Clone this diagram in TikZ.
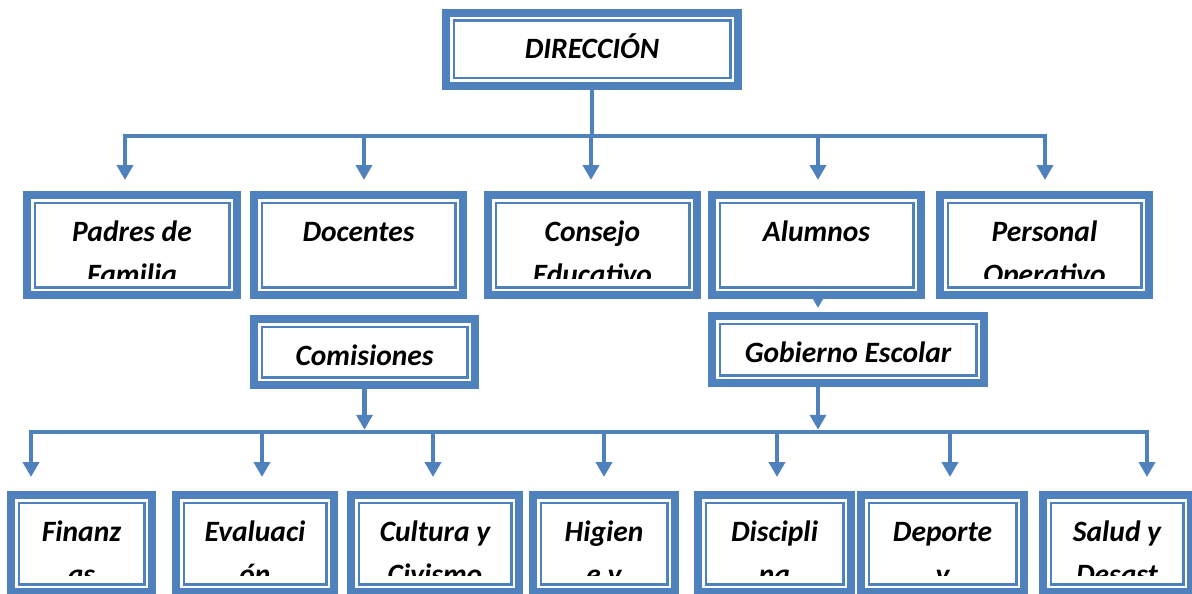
\documentclass[tikz,border=0pt]{standalone}
\usepackage{fontspec}
\setmainfont{Carlito}
\usetikzlibrary{arrows.meta}

\definecolor{orgblue}{HTML}{4F81BD}
\newcommand{\boxfont}{\fontsize{29.5}{43}\selectfont\bfseries\itshape}

\tikzset{
    orgbox/.style={draw=orgblue, line width=8pt, fill=white, inner sep=0pt,
        path picture={
            \draw[orgblue, line width=2.5pt] ([shift={(7.75pt,7.75pt)}]path picture bounding box.south west) rectangle ([shift={(-7.75pt,-7.75pt)}]path picture bounding box.north east);
            \clip ([shift={(9pt,17pt)}]path picture bounding box.south west) rectangle ([shift={(-9pt,-9pt)}]path picture bounding box.north east);
            \pgftext[base,at={\pgfpointadd{\pgfpointanchor{path picture bounding box}{north}}{\pgfpoint{0pt}{-46pt}}}]{\boxfont\parbox[t]{300pt}{\centering\boxfont #1}};
        }},
    flecha/.style={draw=orgblue, line width=4.5pt, -{Triangle[width=16pt,length=15pt]}},
    linea/.style={draw=orgblue, line width=4.5pt},
}

\begin{document}
\begin{tikzpicture}[x=1pt,y=-1pt]
    \useasboundingbox (0,0) rectangle (1192,594);

    \node[orgbox={DIRECCIÓN}, minimum width=292pt, minimum height=73pt] (direccion) at (592,49.5) {};

    % segundo nivel
    \node[orgbox={Padres de\\Familia}, minimum width=210pt, minimum height=100pt] (padres) at (132,245) {};
    \node[orgbox={Docentes}, minimum width=209pt, minimum height=100pt] (docentes) at (358.5,245) {};
    \node[orgbox={Consejo\\Educativo}, minimum width=209pt, minimum height=100pt] (consejo) at (592.5,245) {};
    \node[orgbox={Alumnos}, minimum width=209pt, minimum height=100pt] (alumnos) at (816.5,245) {};
    \node[orgbox={Personal\\Operativo}, minimum width=209pt, minimum height=100pt] (personal) at (1044.5,245) {};

    \node[orgbox={Comisiones}, minimum width=221pt, minimum height=66pt] (comisiones) at (364.5,352) {};
    \node[orgbox={Gobierno Escolar}, minimum width=272pt, minimum height=67pt] (gobierno) at (848,349.5) {};

    % comisiones
    \node[orgbox={Finanz\\as}, minimum width=141pt, minimum height=97pt] (finanzas) at (81.5,543.5) {};
    \node[orgbox={Evaluaci\\ón}, minimum width=158pt, minimum height=97pt] (evaluacion) at (255,543.5) {};
    \node[orgbox={Cultura y\\Civismo}, minimum width=168pt, minimum height=97pt] (cultura) at (435,543.5) {};
    \node[orgbox={Higien\\e y}, minimum width=142pt, minimum height=97pt] (higiene) at (604,543.5) {};
    \node[orgbox={Discipli\\na}, minimum width=153pt, minimum height=97pt] (disciplina) at (774.5,543.5) {};
    \node[orgbox={Deporte\\y}, minimum width=163pt, minimum height=97pt] (deporte) at (942.5,543.5) {};
    \node[orgbox={Salud y\\Desast}, minimum width=148pt, minimum height=97pt] (salud) at (1117,543.5) {};

    \coordinate (b1) at (592,136);
    \coordinate (t1) at (125,180);
    \coordinate (t2) at (364,180);
    \coordinate (t3) at (591,180);
    \coordinate (t4) at (818,180);
    \coordinate (t5) at (1045,180);

    \draw[linea] (direccion.south) -- (b1);
    \draw[flecha] (b1) -| (t1);
    \draw[flecha] (b1) -| (t5);
    \foreach \t in {t2,t3,t4}
        \draw[flecha] (\t |- b1) -- (\t);

    \draw[flecha, shorten >=4pt] (alumnos.south -| t4) -- (gobierno.north -| t4);

    \coordinate (b2) at (604,432);
    \coordinate (u1) at (31,477);
    \coordinate (u2) at (262,477);
    \coordinate (u3) at (433,477);
    \coordinate (u4) at (604,477);
    \coordinate (u5) at (777,477);
    \coordinate (u6) at (950,477);
    \coordinate (u7) at (1147,477);

    \draw[flecha, shorten >=2.25pt] (comisiones.south) -- (comisiones.south |- b2);
    \draw[flecha, shorten >=2.25pt] (gobierno.south -| t4) -- (b2 -| t4);
    \draw[flecha] (b2) -| (u1);
    \draw[flecha] (b2) -| (u7);
    \foreach \u in {u2,u3,u4,u5,u6}
        \draw[flecha] (\u |- b2) -- (\u);
\end{tikzpicture}
\end{document}
